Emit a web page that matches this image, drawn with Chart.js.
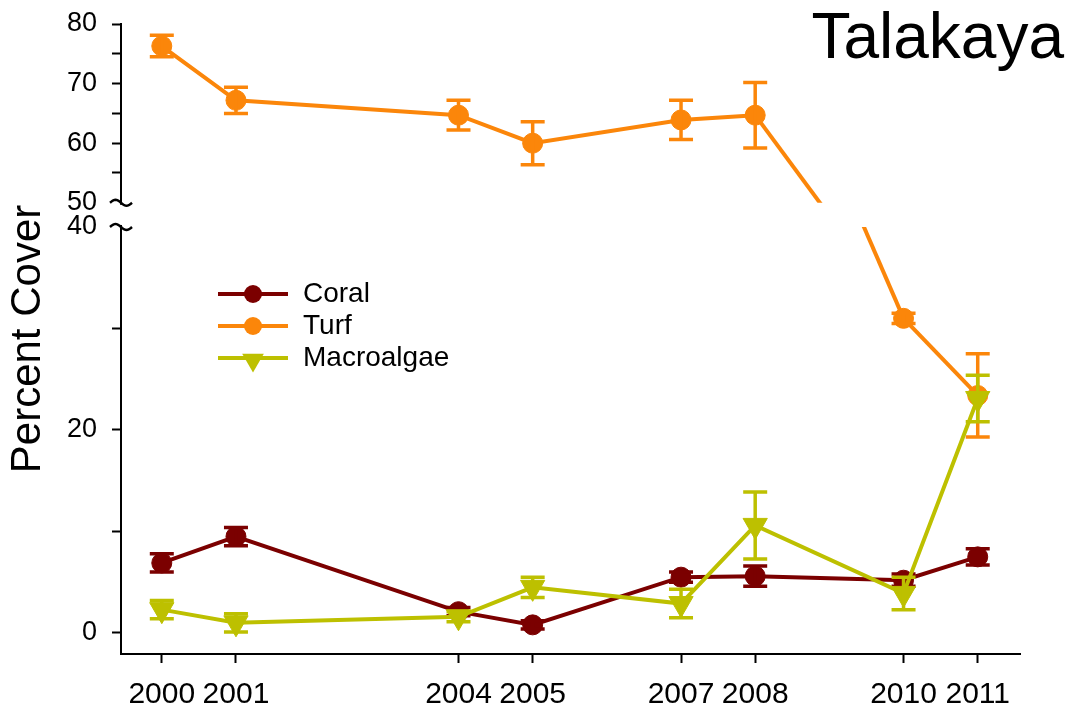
<!DOCTYPE html>
<html>
<head>
<meta charset="utf-8">
<script src="https://cdn.jsdelivr.net/npm/chart.js@4.4.1/dist/chart.umd.min.js"></script>
<style>
  body { margin: 0; background: #fff; }
</style>
</head>
<body>
<canvas id="coverChart" width="1071" height="711"></canvas>
<script>
let years = [2000, 2001, 2004, 2005, 2007, 2008, 2010, 2011];
let coral = [6.9, 9.5, 2.1, 0.8, 5.5, 5.6, 5.2, 7.5];
let coralErr = [0.9, 0.9, 0.4, 0.4, 0.5, 1.0, 0.6, 0.8];
let turf = [76.3, 67.2, 64.7, 60.0, 63.9, 64.7, 31.0, 23.4];
let turfErr = [1.8, 2.2, 2.5, 3.6, 3.3, 5.5, 0.5, 4.1];
let macro = [2.3, 1.0, 1.6, 4.5, 2.9, 10.6, 3.9, 23.1];
let macroErr = [0.9, 0.9, 0.5, 1.0, 1.4, 3.3, 1.6, 2.3];
let yTicks = [0, 10, 20, 30, 40, 50, 55, 60, 65, 70, 75, 80];
let yLabels = [0, 20, 40, 50, 60, 70, 80];

Chart.defaults.font.family = '"Liberation Sans", Arial, sans-serif';
Chart.defaults.color = '#000';

// linear axis with a gap between breakLow and breakHigh
class BrokenScale extends Chart.LinearScale {
  static id = 'broken';
  static defaults = {};
  parts() {
    let h = this.bottom - this.top;
    let lowH = h * this.options.lowerShare;
    let gapH = h * this.options.gapShare;
    return { lowH: lowH, gapH: gapH, upH: h - lowH - gapH };
  }
  lowerPixel(v) {
    let lo = this.options.breakLow;
    return this.bottom - (v - this.min) / (lo - this.min) * this.parts().lowH;
  }
  upperPixel(v) {
    let p = this.parts(), hi = this.options.breakHigh;
    return this.bottom - p.lowH - p.gapH - (v - hi) / (this.max - hi) * p.upH;
  }
  getPixelForValue(v) {
    if (v === null || isNaN(v)) return NaN;
    let lo = this.options.breakLow, hi = this.options.breakHigh;
    if (v <= lo) return this.lowerPixel(v);
    if (v >= hi) return this.upperPixel(v);
    let a = this.lowerPixel(lo), b = this.upperPixel(hi);
    return a + (b - a) * (v - lo) / (hi - lo);
  }
  getValueForPixel(px) {
    let lo = this.options.breakLow, hi = this.options.breakHigh;
    let a = this.lowerPixel(lo), b = this.upperPixel(hi), p = this.parts();
    if (px >= a) return this.min + (this.bottom - px) / p.lowH * (lo - this.min);
    if (px <= b) return hi + (b - px) / p.upH * (this.max - hi);
    return lo + (a - px) / (a - b) * (hi - lo);
  }
}
Chart.register(BrokenScale);

function crossesBreak(a, b) {
  return (a >= 50 && b <= 40) || (a <= 40 && b >= 50);
}

function series(values) {
  return values.map((v, i) => ({ x: years[i], y: v }));
}

// vertical error bars, drawn right after each dataset
const errorBars = {
  id: 'errorBars',
  afterDatasetDraw(chart, args) {
    const ds = chart.data.datasets[args.index];
    if (!ds.errors) return;
    const ys = chart.scales.y, ctx = chart.ctx;
    ctx.save();
    ctx.strokeStyle = ds.borderColor;
    ctx.lineWidth = 3.5;
    args.meta.data.forEach((pt, j) => {
      const v = ds.data[j].y, e = ds.errors[j];
      const top = ys.getPixelForValue(v + e), bot = ys.getPixelForValue(v - e);
      ctx.beginPath();
      ctx.moveTo(pt.x, top); ctx.lineTo(pt.x, bot);
      ctx.moveTo(pt.x - 12, top); ctx.lineTo(pt.x + 12, top);
      ctx.moveTo(pt.x - 12, bot); ctx.lineTo(pt.x + 12, bot);
      ctx.stroke();
    });
    ctx.restore();
  }
};

// segments that jump across the break are drawn once per panel, clipped to it
const brokenSegments = {
  id: 'brokenSegments',
  beforeDatasetsDraw(chart) {
    const ys = chart.scales.y, xs = chart.scales.x, ctx = chart.ctx, area = chart.chartArea;
    const yHi = ys.getPixelForValue(ys.options.breakHigh);
    const yLo = ys.getPixelForValue(ys.options.breakLow);
    chart.data.datasets.forEach(ds => {
      for (let j = 0; j + 1 < ds.data.length; j++) {
        const a = ds.data[j], b = ds.data[j + 1];
        if (!crossesBreak(a.y, b.y)) continue;
        const xa = xs.getPixelForValue(a.x), xb = xs.getPixelForValue(b.x);
        [[area.top, yHi, 'upperPixel'], [yLo, area.bottom, 'lowerPixel']].forEach(p => {
          ctx.save();
          ctx.beginPath();
          ctx.rect(area.left, p[0], area.width, p[1] - p[0]);
          ctx.clip();
          ctx.strokeStyle = ds.borderColor;
          ctx.lineWidth = ds.borderWidth;
          ctx.beginPath();
          ctx.moveTo(xa, ys[p[2]](a.y));
          ctx.lineTo(xb, ys[p[2]](b.y));
          ctx.stroke();
          ctx.restore();
        });
      }
    });
  }
};

// break marks on the y axis
const axisBreak = {
  id: 'axisBreak',
  afterDraw(chart) {
    const ys = chart.scales.y, ctx = chart.ctx, x = ys.right;
    const yHi = ys.getPixelForValue(ys.options.breakHigh);
    const yLo = ys.getPixelForValue(ys.options.breakLow);
    ctx.save();
    ctx.fillStyle = '#fff';
    ctx.fillRect(x - 3, yHi + 2, 6, yLo - yHi - 4);
    ctx.strokeStyle = '#000';
    ctx.lineWidth = 2.5;
    [yHi, yLo].forEach(y => {
      ctx.beginPath();
      for (let k = 0; k <= 20; k++) {
        const t = k / 20;
        const px = x - 11 + 22 * t, py = y - 3 * Math.sin(2 * Math.PI * t);
        if (k) ctx.lineTo(px, py); else ctx.moveTo(px, py);
      }
      ctx.stroke();
    });
    ctx.restore();
  }
};

const inlineLegend = {
  id: 'inlineLegend',
  afterDraw(chart, args, opts) {
    const ctx = chart.ctx;
    chart.data.datasets.forEach((ds, i) => {
      const y = opts.y + i * opts.rowGap;
      const tri = ds.pointStyle === 'triangle';
      ctx.save();
      ctx.strokeStyle = ds.borderColor;
      ctx.lineWidth = 4;
      ctx.beginPath();
      ctx.moveTo(opts.x, y);
      ctx.lineTo(opts.x + opts.lineLen, y);
      ctx.stroke();
      ctx.fillStyle = ds.borderColor;
      Chart.helpers.drawPoint(ctx, {
        pointStyle: ds.pointStyle, rotation: ds.pointRotation || 0,
        radius: tri ? 12.5 : 9, borderWidth: 0
      }, opts.x + opts.lineLen / 2, tri ? y + 2 : y);
      ctx.fillStyle = '#000';
      ctx.font = '28px "Liberation Sans", Arial, sans-serif';
      ctx.textBaseline = 'middle';
      ctx.fillText(ds.label, opts.textX, y);
      ctx.restore();
    });
  }
};

const siteLabel = {
  id: 'siteLabel',
  afterDraw(chart, args, opts) {
    const ctx = chart.ctx;
    ctx.save();
    ctx.fillStyle = '#000';
    ctx.font = '64px "Liberation Sans", Arial, sans-serif';
    ctx.textAlign = 'right';
    ctx.textBaseline = 'alphabetic';
    ctx.fillText(opts.text, opts.x, opts.y);
    ctx.restore();
  }
};

function lineSet(label, values, errors, color, style, radius, order) {
  return {
    label: label,
    data: series(values),
    errors: errors,
    borderColor: color,
    backgroundColor: color,
    borderWidth: 4,
    pointStyle: style,
    pointRotation: style === 'triangle' ? 180 : 0,
    pointRadius: radius,
    pointHoverRadius: radius,
    pointBackgroundColor: color,
    pointBorderColor: color,
    pointBorderWidth: 1,
    order: order,
    segment: {
      borderColor: ctx => crossesBreak(ctx.p0.parsed.y, ctx.p1.parsed.y) ? 'transparent' : undefined
    }
  };
}

let chart = new Chart(document.getElementById('coverChart').getContext('2d'), {
  type: 'line',
  data: {
    datasets: [
      lineSet('Coral', coral, coralErr, '#7B0000', 'circle', 10, 3),
      lineSet('Turf', turf, turfErr, '#FB860A', 'circle', 10, 2),
      lineSet('Macroalgae', macro, macroErr, '#BDC000', 'triangle', 14, 1)
    ]
  },
  plugins: [brokenSegments, errorBars, axisBreak, inlineLegend, siteLabel],
  options: {
    responsive: false,
    animation: false,
    events: [],
    layout: { padding: { top: 24, right: 51, left: 0, bottom: 0 } },
    plugins: {
      legend: { display: false },
      tooltip: { enabled: false },
      inlineLegend: { x: 218, y: 294, rowGap: 32, lineLen: 70, textX: 303 },
      siteLabel: { text: 'Talakaya', x: 1064, y: 58 }
    },
    scales: {
      x: {
        type: 'linear',
        min: 1999.45,
        max: 2011.57,
        afterBuildTicks: s => { s.ticks = years.map(v => ({ value: v })); },
        afterFit: s => { s.height = 57; },
        ticks: {
          autoSkip: false,
          maxRotation: 0,
          padding: 14,
          font: { size: 30 },
          callback: v => String(v)
        },
        grid: { drawOnChartArea: false, drawTicks: true, tickLength: 9, tickWidth: 2, tickColor: '#000' },
        border: { display: true, color: '#000', width: 2 }
      },
      y: {
        type: 'broken',
        min: -2.07,
        max: 80,
        breakLow: 40,
        breakHigh: 50,
        lowerShare: 0.6778,
        gapShare: 0.0384,
        afterBuildTicks: s => { s.ticks = yTicks.map(v => ({ value: v })); },
        afterFit: s => { s.width = 121; s.paddingTop = 0; s.paddingBottom = 0; },
        ticks: {
          autoSkip: false,
          padding: 15,
          font: { size: 27 },
          callback: v => yLabels.includes(v) ? String(v) : ''
        },
        grid: {
          drawOnChartArea: false,
          drawTicks: true,
          tickLength: 9,
          tickWidth: 2,
          tickColor: ctx => (ctx.tick && (ctx.tick.value === 40 || ctx.tick.value === 50)) ? 'rgba(0,0,0,0)' : '#000'
        },
        border: { display: true, color: '#000', width: 2 },
        title: { display: true, text: 'Percent Cover', font: { size: 42 }, padding: 3 }
      }
    }
  }
});
</script>
</body>
</html>
